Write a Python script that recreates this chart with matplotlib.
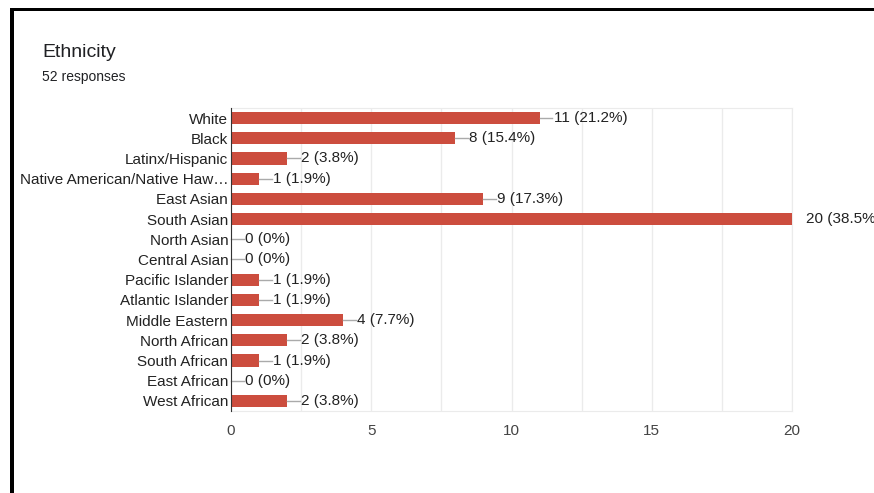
import matplotlib.pyplot as plt
from matplotlib.patches import Rectangle
import numpy as np

# Respuestas por categoría
categorias = ['White', 'Black', 'Latinx/Hispanic', 'Native American/Native Haw…',
              'East Asian', 'South Asian', 'North Asian', 'Central Asian',
              'Pacific Islander', 'Atlantic Islander', 'Middle Eastern',
              'North African', 'South African', 'East African', 'West African']
conteos = [11, 8, 2, 1, 9, 20, 0, 0, 1, 1, 4, 2, 1, 0, 2]
total = 52
xticks = [0, 5, 10, 15, 20]

plt.rcParams['font.family'] = ['Liberation Sans', 'DejaVu Sans']

fig = plt.figure(figsize=(8.74, 4.93), dpi=100)
ax = fig.add_axes([0.2643, 0.1663, 0.6419, 0.6147])

y = np.arange(len(categorias))
ax.barh(y, conteos, height=0.6, color='#cc4d3e', zorder=3)

ax.set_xlim(0, 20)
ax.set_ylim(len(categorias) - 0.5, -0.5)
ax.set_yticks(y)
ax.set_yticklabels(categorias, fontsize=11, color='#222222')
ax.set_xticks(xticks)
ax.set_xticklabels([str(t) for t in xticks], fontsize=11, color='#444444')
ax.set_xticks(np.arange(2.5, 20, 5), minor=True)
ax.tick_params(axis='both', which='both', length=0)
ax.tick_params(axis='y', pad=2)
ax.tick_params(axis='x', pad=9)
ax.grid(True, axis='x', which='both', color='#ebebeb', lw=1, zorder=0)

for s in ['top', 'right', 'bottom']:
    ax.spines[s].set_color('#ebebeb')
ax.spines['left'].set_color('#333333')
ax.spines['left'].set_zorder(4)

# Etiquetas con línea guía
for i, v in enumerate(conteos):
    pct = v / total * 100
    txt = f'{v} (0%)' if v == 0 else f'{v} ({pct:.1f}%)'
    if v < 20:
        ax.plot([v, v + 0.45], [i, i], color='#aaaaaa', lw=1, zorder=3, clip_on=False)
        ax.text(v + 0.5, i, txt, va='center', ha='left', fontsize=11, color='#222222')
    else:
        ax.text(v + 0.5, i, txt, va='center', ha='left', fontsize=11,
                color='#222222', clip_on=False)

fig.text(0.048, 0.885, 'Ethnicity', fontsize=14, color='#202124')
fig.text(0.048, 0.835, '52 responses', fontsize=10, color='#202124')

# Marco negro
fig.add_artist(Rectangle((0.0115, 0.978), 0.99, 0.006, transform=fig.transFigure,
                         color='black', lw=0))
fig.add_artist(Rectangle((0.0115, 0.0), 0.004, 0.984, transform=fig.transFigure,
                         color='black', lw=0))

fig.savefig('out.png', dpi=100)
